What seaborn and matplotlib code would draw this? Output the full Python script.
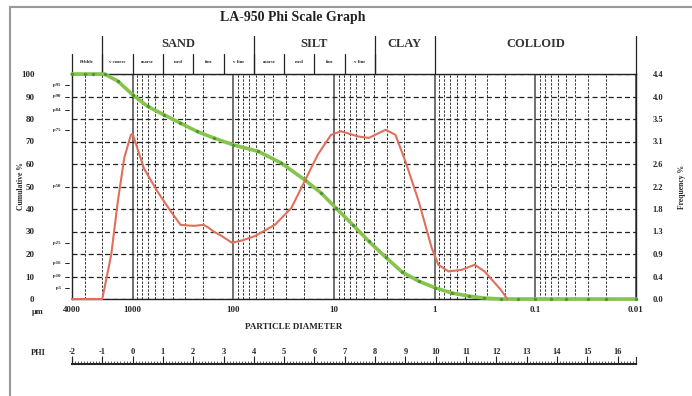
import numpy as np
import matplotlib
matplotlib.use("Agg")
import matplotlib.pyplot as plt
import matplotlib.transforms as mtransforms
from matplotlib.ticker import LogLocator, MultipleLocator, NullFormatter
import seaborn as sns

sns.set_style("white")
plt.rcParams['font.family'] = ['Liberation Serif', 'DejaVu Sans']

''' Data read off the picture '''
# cumulative % (green), particle size in um
cum_size = [4000, 3000, 2500, 1900, 1400, 1000, 710, 490, 335, 230, 157, 100, 56.5, 33.3,
            19.6, 13.4, 9.55, 6.5, 4.5, 3.07, 2.1, 1.44, 0.99, 0.68, 0.46, 0.32, 0.22,
            0.15, 0.1, 0.07, 0.05, 0.03, 0.02, 0.01]
cum_pct = [100, 100, 100, 100, 96.8, 90.8, 85.6, 81.9, 78.2, 74.5, 71.6, 68.5, 65.6, 60.4,
           53, 47.1, 40.4, 33, 25.6, 18.6, 12, 7.9, 5, 2.7, 1.3, 0.4, 0,
           0, 0, 0, 0, 0, 0, 0]

# frequency % (red)
freq_size = [4000, 2000, 1630, 1400, 1210, 1040, 1000, 770, 570, 420, 334, 247, 197, 175,
             157, 130, 103, 80, 61, 38.6, 26.5, 19.6, 14.5, 10.7, 8.5, 5.8, 4.5, 3.07, 2.45,
             1.95, 1.44, 1.07, 0.92, 0.73, 0.54, 0.40, 0.32, 0.22, 0.19]
freq_pct = [0, 0, 0.87, 1.92, 2.76, 3.21, 3.23, 2.55, 2.11, 1.72, 1.45, 1.43, 1.45, 1.39,
            1.32, 1.23, 1.10, 1.15, 1.23, 1.45, 1.78, 2.30, 2.82, 3.21, 3.28, 3.18, 3.15, 3.31, 3.21,
            2.69, 1.91, 1.00, 0.67, 0.54, 0.57, 0.67, 0.54, 0.18, 0.0]

size_ticks = [4000, 1000, 100, 10, 1, 0.1, 0.01]
size_labels = ['4000', '1000', '100', '10', '1', '0.1', '0.01']
pct_marks = [5, 10, 16, 25, 50, 75, 84, 90, 95]

class_names = ['SAND', 'SILT', 'CLAY', 'COLLOID']
class_edges = [2000, 62.5, 3.9, 1, 0.01]
sub_names = ['Pebble', 'v coarse', 'coarse', 'med', 'fine', 'v fine',
             'coarse', 'med', 'fine', 'v fine']
sub_edges = [4000, 2000, 1000, 500, 250, 125, 62.5, 31.25, 15.625, 7.8125, 3.906]

phi_ticks = list(range(-2, 17))

''' Figure '''
W, H = 692, 396
fig = plt.figure(figsize=(W / 100, H / 100), dpi=100)
ax = fig.add_axes([72 / W, 1 - 299 / H, 564 / W, 225 / H])

ax.set_xscale('log')
ax.set_xlim(4000, 0.01)
ax.set_ylim(0, 100)

sns.lineplot(x=cum_size, y=cum_pct, ax=ax, color='#86c44c', lw=2.6, marker='o',
             markersize=2.4, markerfacecolor='#4b9636', markeredgecolor='none',
             clip_on=False, zorder=3)

ax.set_xticks(size_ticks, labels=size_labels)
ax.xaxis.set_minor_locator(LogLocator(base=10, subs=np.arange(2, 10), numticks=20))
ax.xaxis.set_minor_formatter(NullFormatter())
ax.set_yticks(np.arange(0, 101, 10))

ax.grid(which='major', axis='x', ls='-', color='#707070', lw=1.4)
ax.grid(which='minor', axis='x', ls=(0, (2.5, 1.5)), color='#333333', lw=0.7)
ax.grid(which='major', axis='y', ls=(0, (4, 2.5)), color='#222222', lw=0.9)

ax.tick_params(axis='y', length=0, pad=27, labelsize=6.5)
ax.tick_params(axis='x', which='both', length=0, pad=5, labelsize=6.5)
for lab in ax.get_xticklabels() + ax.get_yticklabels():
    lab.set_fontweight('bold')

for s in ax.spines.values():
    s.set_color('#222222')
    s.set_linewidth(1.0)

ax.set_ylabel('Cumulative %', fontsize=5.5, fontweight='bold')
ax.yaxis.set_label_coords(-0.083, 0.5)
ax.set_xlabel('PARTICLE DIAMETER', fontsize=6.5, fontweight='bold')
ax.xaxis.set_label_coords(0.393, -0.105)

# percentile marks on the left
ytrans = mtransforms.blended_transform_factory(ax.transAxes, ax.transData)
for p in pct_marks:
    ax.text(-0.02, p, 'p%d' % p, transform=ytrans, fontsize=3.5, ha='right',
            va='center', fontweight='bold')
    ax.plot([-0.013, -0.006], [p, p], transform=ytrans, color='k', lw=0.6, clip_on=False)

# frequency on the right
ax2 = ax.twinx()
sns.lineplot(x=freq_size, y=freq_pct, ax=ax2, color='#e0705c', lw=1.5, clip_on=False)
ax2.set_ylim(0, 4.4)
ax2.set_yticks(np.linspace(0, 4.4, 11))
ax2.set_yticklabels(['%.1f' % v for v in np.linspace(0, 4.4, 11)])
ax2.tick_params(axis='y', length=0, pad=12, labelsize=6)
for lab in ax2.get_yticklabels():
    lab.set_fontweight('bold')
ax2.set_ylabel('Frequency %', fontsize=5.5, fontweight='bold', rotation=90)
ax2.yaxis.set_label_coords(1.074, 0.5)
for s in ax2.spines.values():
    s.set_visible(False)

''' Header with size classes '''
htrans = mtransforms.blended_transform_factory(ax.transData, ax.transAxes)
for e in sub_edges:
    ax.plot([e, e], [1.0, 1.089], transform=htrans, color='#222222', lw=0.9, clip_on=False)
for e in class_edges:
    ax.plot([e, e], [1.0, 1.169], transform=htrans, color='#222222', lw=0.9, clip_on=False)
for i, name in enumerate(sub_names):
    xc = np.sqrt(sub_edges[i] * sub_edges[i + 1])
    ax.text(xc, 1.053, name, transform=htrans, fontsize=3.4, ha='center', va='center',
            fontweight='bold')
for i, name in enumerate(class_names):
    xc = np.sqrt(class_edges[i] * class_edges[i + 1])
    ax.text(xc, 1.133, name, transform=htrans, fontsize=9, ha='center', va='center',
            fontweight='bold', color='#333333')

ax.text(0.392, 1.253, 'LA-950 Phi Scale Graph', transform=ax.transAxes, fontsize=10,
        ha='center', va='center', fontweight='bold', color='#222222')

fig.text(38 / W, 1 - 312 / H, 'µm', fontsize=6, ha='center', va='center', fontweight='bold')

''' PHI ruler '''
ax3 = fig.add_axes([72 / W, 1 - 364 / H, 564 / W, 7 / H])
ax3.set_xlim(-2, np.log2(1e5))
ax3.set_yticks([])
ax3.set_xticks(phi_ticks, labels=[str(t) for t in phi_ticks])
ax3.xaxis.set_minor_locator(MultipleLocator(0.1))
ax3.tick_params(axis='x', which='both', direction='in', bottom=True, top=False,
                labelbottom=False, labeltop=True, pad=1, labelsize=6, color='#222222')
ax3.tick_params(axis='x', which='major', length=6, width=0.8)
ax3.tick_params(axis='x', which='minor', length=2.5, width=0.5)
for lab in ax3.get_xticklabels():
    lab.set_fontweight('bold')
ax3.spines['top'].set_visible(False)
ax3.spines['bottom'].set_linewidth(1.5)
ax3.spines['left'].set_linewidth(0.8)
ax3.spines['right'].set_linewidth(0.8)
ax3.patch.set_alpha(0)
fig.text(38 / W, 1 - 353 / H, 'PHI', fontsize=6, ha='center', va='center', fontweight='bold')

# page border
fig.add_artist(plt.Rectangle((10 / W, -0.05), 1.2, 1 - 7 / H + 0.05, transform=fig.transFigure,
                             fill=False, ec='#999999', lw=1.5))

plt.savefig('out.png', dpi=100)
plt.close()
